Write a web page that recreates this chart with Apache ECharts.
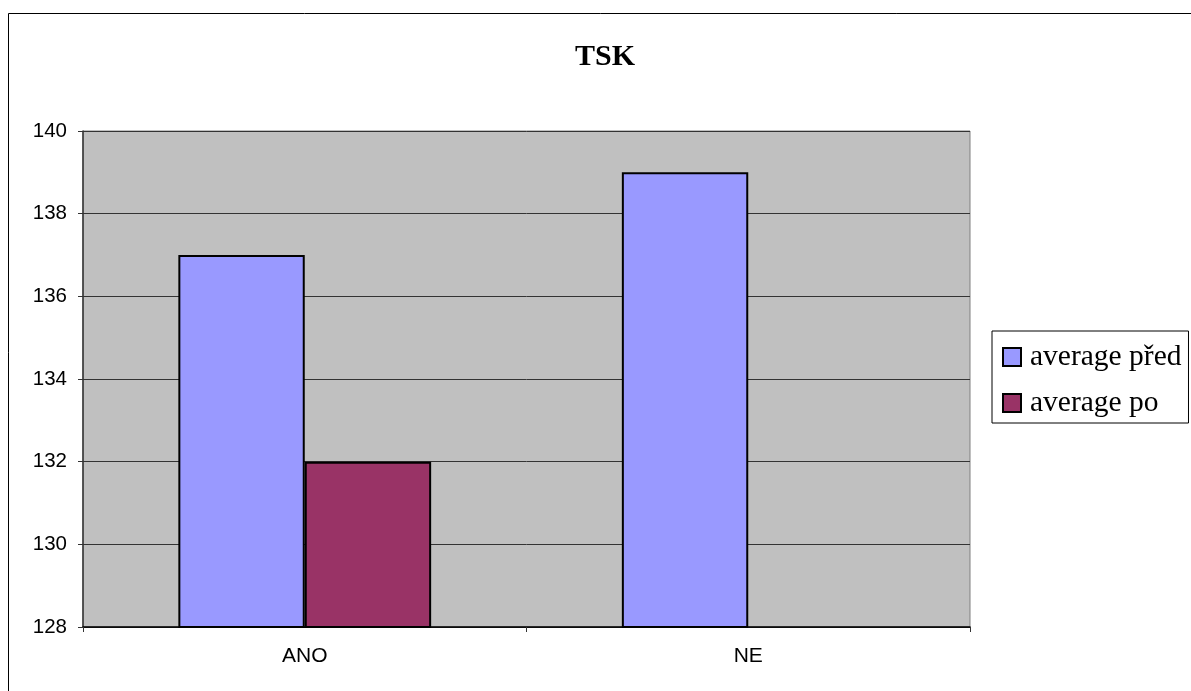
<!DOCTYPE html>
<html>
<head>
<meta charset="utf-8">
<script src="https://cdn.jsdelivr.net/npm/echarts@6/dist/echarts.min.js"></script>
<style>
  html, body { margin: 0; padding: 0; background: #fff; }
  #chart { width: 1191px; height: 691px; }
</style>
</head>
<body>
<div id="chart"></div>
<script>
// Chart data
const categories = ['ANO', 'NE'];
const seriesNames = ['average před', 'average po'];
const averagePred = [137, 139];
const averagePo = [132, null];
const yTicks = { min: 128, max: 140, interval: 2 };

const chart = echarts.init(document.getElementById('chart'), null, { renderer: 'canvas' });

const barStyle = (color) => ({
  color: color,
  borderColor: '#000',
  borderWidth: 2
});

chart.setOption({
  animation: false,
  backgroundColor: '#fff',
  title: {
    text: 'TSK',
    left: 570,
    top: 37,
    textStyle: {
      fontFamily: '"Liberation Serif", "DejaVu Serif", serif',
      fontSize: 30,
      fontWeight: 'bold',
      color: '#000'
    }
  },
  graphic: [
    {
      type: 'rect',
      shape: { x: 8.5, y: 13.5, width: 1200, height: 700 },
      style: { fill: 'none', stroke: '#000', lineWidth: 1 },
      silent: true,
      z: -1
    }
  ],
  legend: {
    orient: 'vertical',
    left: 992,
    top: 331,
    padding: [11, 7, 5, 10],
    itemWidth: 18,
    itemHeight: 18,
    itemGap: 16,
    icon: 'rect',
    borderColor: '#000',
    borderWidth: 1,
    backgroundColor: '#fff',
    textStyle: {
      fontFamily: '"Liberation Serif", "DejaVu Serif", serif',
      fontSize: 29.5,
      lineHeight: 30,
      color: '#000',
      padding: [0, 0, 0, 4]
    },
    data: seriesNames
  },
  grid: {
    left: 83,
    right: 221,
    top: 131,
    bottom: 64,
    show: true,
    backgroundColor: '#C0C0C0',
    borderColor: '#808080',
    borderWidth: 1
  },
  xAxis: {
    type: 'category',
    data: categories,
    axisLine: { lineStyle: { color: '#000', width: 1.5 } },
    axisTick: { show: true, length: 5, alignWithLabel: false, lineStyle: { color: '#333' } },
    axisLabel: {
      fontFamily: '"Liberation Sans", Arial, sans-serif',
      fontSize: 21,
      color: '#000',
      margin: 19
    },
    splitLine: { show: false }
  },
  yAxis: {
    type: 'value',
    min: yTicks.min,
    max: yTicks.max,
    interval: yTicks.interval,
    axisLine: { show: true, lineStyle: { color: '#333', width: 1.5 } },
    axisTick: { show: true, length: 5, lineStyle: { color: '#333' } },
    axisLabel: {
      fontFamily: '"Liberation Sans", Arial, sans-serif',
      fontSize: 20.5,
      color: '#000',
      margin: 16
    },
    splitLine: { show: true, lineStyle: { color: '#333', width: 1 } }
  },
  series: [
    {
      name: seriesNames[0],
      type: 'bar',
      data: averagePred,
      itemStyle: barStyle('#9999FF'),
      barGap: '0%',
      barCategoryGap: '43%'
    },
    {
      name: seriesNames[1],
      type: 'bar',
      data: averagePo,
      itemStyle: barStyle('#993366'),
      barGap: '0%',
      barCategoryGap: '43%'
    }
  ]
});
</script>
</body>
</html>
